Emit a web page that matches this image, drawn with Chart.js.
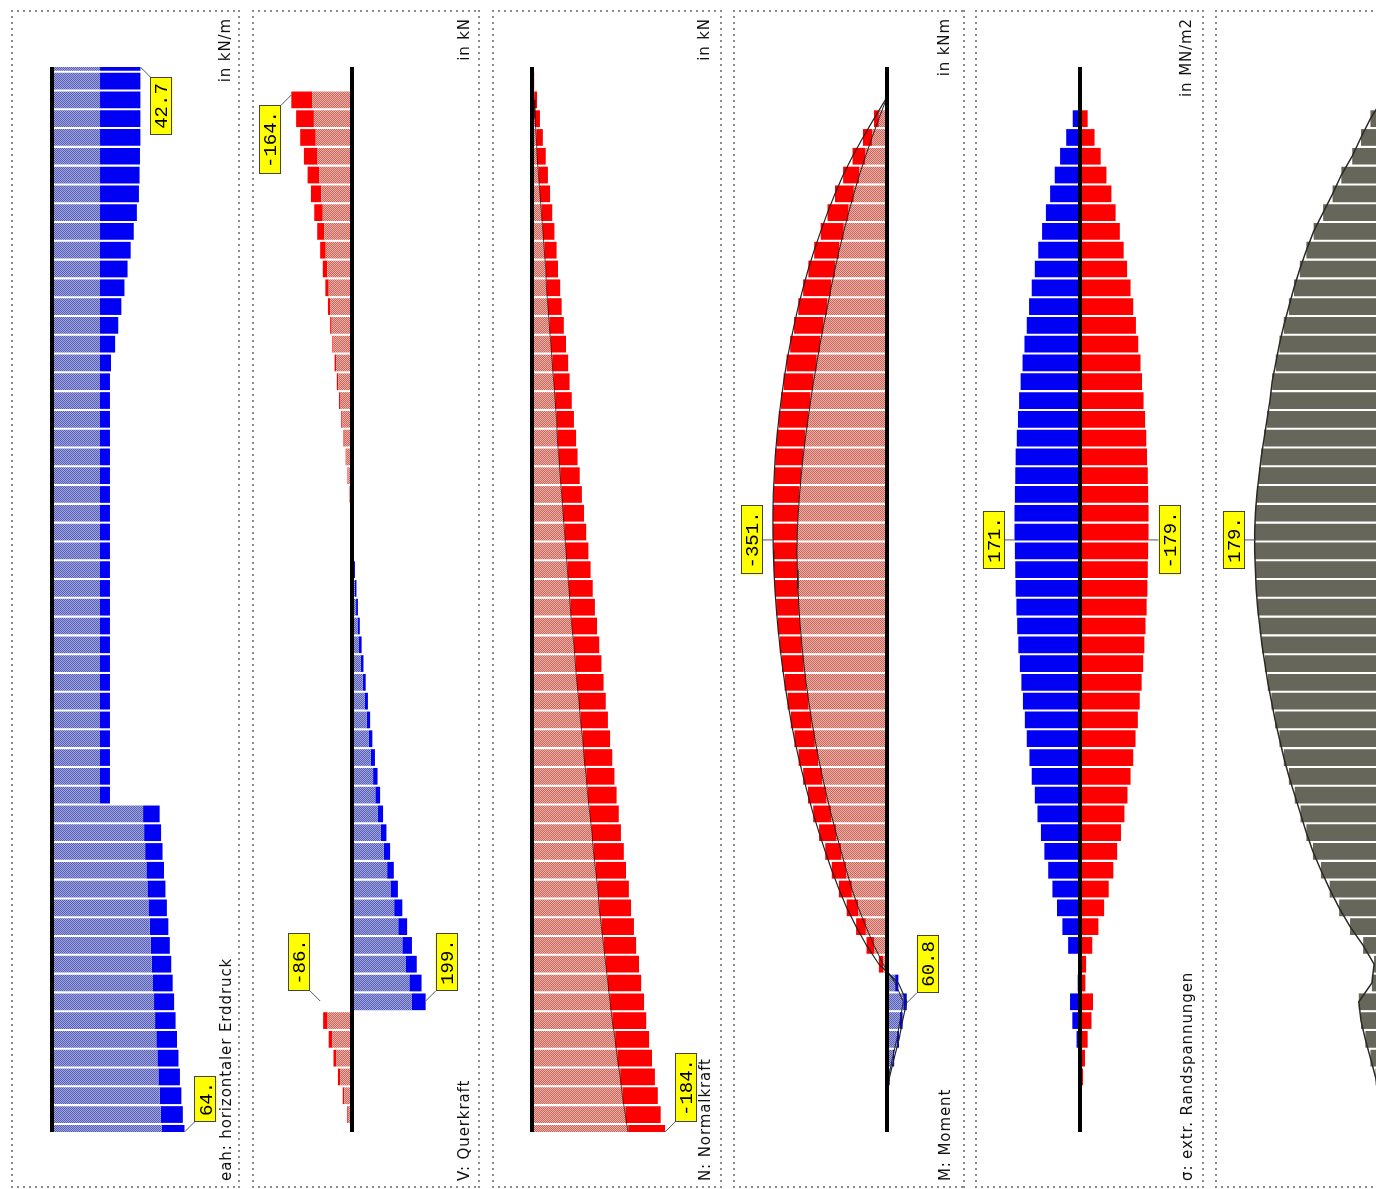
<!DOCTYPE html>
<html lang="de">
<head>
<meta charset="UTF-8">
<title>Spundwand – Schnittgrößen</title>
<script src="https://cdn.jsdelivr.net/npm/chart.js"></script>
<style>
  body {
    margin: 0;
    width: 1376px;
    height: 1189px;
    overflow: hidden;
    position: relative;
    background: #fff;
    font-family: 'DejaVu Sans', sans-serif;
  }
  .panel {
    position: absolute;
    top: 10px;
    height: 1178px;
    background:
      repeating-linear-gradient(90deg, #8c8c8c 0 2px, transparent 2px 6px) 0 0 / 100% 2px no-repeat,
      repeating-linear-gradient(90deg, #8c8c8c 0 2px, transparent 2px 6px) 0 100% / 100% 2px no-repeat,
      repeating-linear-gradient(180deg, #8c8c8c 0 2px, transparent 2px 6px) 0 0 / 2px 100% no-repeat,
      repeating-linear-gradient(180deg, #8c8c8c 0 2px, transparent 2px 6px) 100% 0 / 2px 100% no-repeat;
  }
  canvas { position: absolute; top: 0; }
  .vt {
    position: absolute;
    width: 320px;
    transform-origin: 0 0;
    transform: rotate(-90deg);
    white-space: nowrap;
    font-size: 15px;
    line-height: 16px;
    letter-spacing: 0.9px;
    color: #111;
  }
  .unit { top: 338px; text-align: right; }
  .name { top: 1181px; text-align: left; }
</style>
</head>
<body>
  <div class="panel" style="left:11px;width:229px"></div>
  <div class="panel" style="left:252px;width:228px"></div>
  <div class="panel" style="left:492px;width:230px"></div>
  <div class="panel" style="left:733px;width:232px"></div>
  <div class="panel" style="left:975px;width:229px"></div>
  <div class="panel" style="left:1215px;width:230px"></div>

  <canvas id="c1" width="229" height="1189" style="left:11px"></canvas>
  <canvas id="c2" width="228" height="1189" style="left:252px"></canvas>
  <canvas id="c3" width="230" height="1189" style="left:492px"></canvas>
  <canvas id="c4" width="232" height="1189" style="left:733px"></canvas>
  <canvas id="c5" width="229" height="1189" style="left:975px"></canvas>
  <canvas id="c6" width="230" height="1189" style="left:1215px"></canvas>

  <div class="vt unit" style="left:217px">in kN/m</div>
  <div class="vt name" style="left:218px">eah: horizontaler Erddruck</div>
  <div class="vt unit" style="left:456px">in kN</div>
  <div class="vt name" style="left:456px">V: Querkraft</div>
  <div class="vt unit" style="left:696px">in kN</div>
  <div class="vt name" style="left:697px">N: Normalkraft</div>
  <div class="vt unit" style="left:936px">in kNm</div>
  <div class="vt name" style="left:937px">M: Moment</div>
  <div class="vt unit" style="left:1178px">in MN/m2</div>
  <div class="vt name" style="left:1179px">σ: extr. Randspannungen</div>

<script>
  // stations along the wall (segment centres, top to bottom)
  const stations = [-0.5, 0.5, 1.5, 2.5, 3.5, 4.5, 5.5, 6.5, 7.5, 8.5,
    9.5, 10.5, 11.5, 12.5, 13.5, 14.5, 15.5, 16.5, 17.5, 18.5,
    19.5, 20.5, 21.5, 22.5, 23.5, 24.5, 25.5, 26.5, 27.5, 28.5,
    29.5, 30.5, 31.5, 32.5, 33.5, 34.5, 35.5, 36.5, 37.5, 38.5,
    39.5, 40.5, 41.5, 42.5, 43.5, 44.5, 45.5, 46.5, 47.5, 48.5,
    49.5, 50.5, 51.5, 52.5, 53.5, 54.5, 55.5, 56.5];
  const wallTop = -0.25;
  const wallBottom = 56.43;

  // eah: horizontaler Erddruck (kN/m)
  const eahInner = [23.2, 23.2, 23.2, 23.2, 23.2, 23.2, 23.2, 23.2, 23.2, 23.2,
    23.2, 23.2, 23.2, 23.2, 23.2, 23.2, 23.2, 23.2, 23.2, 23.2,
    23.2, 23.2, 23.2, 23.2, 23.2, 23.2, 23.2, 23.2, 23.2, 23.2,
    23.2, 23.2, 23.2, 23.2, 23.2, 23.2, 23.2, 23.2, 23.2, 23.2,
    44, 44.5, 45, 45.6, 46.1, 46.6, 47.2, 47.7, 48.2, 48.8,
    49.3, 49.8, 50.4, 50.9, 51.4, 52, 52.5, 53];
  const eahOuter = [42.7, 42.7, 42.7, 42.7, 42.7, 42.5, 42.3, 42, 41, 39.5,
    38, 36.5, 35, 33.5, 32, 30.5, 28.5, 28, 28, 28,
    28, 28, 28, 28, 28, 28, 28, 28, 28, 28,
    28, 28, 28, 28, 28, 28, 28, 28, 28, 28,
    52, 52.7, 53.4, 54.1, 54.8, 55.5, 56.2, 56.9, 57.6, 58.3,
    59, 59.7, 60.4, 61.1, 61.8, 62.5, 63.2, 64];

  // V: Querkraft (kN)
  const vInner = [0, 0, -108, -103, -98, -93, -88, -83, -79, -75,
    -71, -67, -63, -59, -55, -50, -43, -37, -31, -26,
    -20, -15, -10, -6, -2, 1, 3, 5, 8, 11,
    15, 19, 24, 29, 35, 40, 45, 51, 57, 63,
    70, 78, 86, 95, 104, 114, 125, 136, 146, 155,
    162, -66, -53, -42, -32, -21, -11, -2];
  const vOuter = [0, 0, -164, -151, -140, -130, -120, -111, -102, -94,
    -86, -79, -72, -65, -59, -53, -47, -41, -35, -29,
    -23, -17, -12, -7, -3, 2, 5, 8, 12, 16,
    21, 26, 31, 37, 43, 49, 55, 62, 69, 76,
    84, 93, 103, 113, 124, 136, 149, 162, 175, 188,
    199, -78, -63, -50, -38, -25, -13, -3];

  // N: Normalkraft (kN)
  const nInner = [0, -1, -3, -4, -6, -7, -9, -11, -13, -15,
    -17, -19, -20, -22, -24, -26, -28, -30, -32, -34,
    -35, -37, -39, -41, -43, -45, -47, -49, -51, -53,
    -55, -58, -60, -62, -65, -67, -70, -72, -75, -77,
    -80, -83, -85, -88, -91, -93, -96, -99, -102, -105,
    -108, -111, -115, -118, -122, -125, -129, -133];
  const nOuter = [0, -3, -7, -11, -15, -19, -22, -25, -28, -31,
    -34, -36, -39, -41, -44, -47, -50, -52, -55, -58,
    -61, -63, -66, -69, -72, -75, -78, -81, -84, -87,
    -90, -93, -96, -99, -102, -105, -108, -111, -114, -117,
    -120, -123, -127, -130, -134, -137, -141, -144, -148, -151,
    -155, -158, -162, -166, -170, -174, -178, -184];

  // M: Moment (kNm)
  const mInner = [0, 0, -3, -25, -46, -66, -85, -102, -118, -133,
    -147, -160, -172, -183, -195, -206, -216, -226, -235, -243,
    -251, -258, -264, -269, -273, -276, -277, -276, -274, -271,
    -267, -262, -256, -249, -241, -232, -222, -211, -199, -186,
    -172, -157, -141, -125, -108, -88, -65, -40, -12, 25,
    50, 40, 30, 17, 5, 0, 0, 0];
  const mOuter = [0, 0, -5, -40, -74, -106, -135, -160, -183, -204,
    -224, -242, -258, -273, -286, -298, -309, -318, -326, -333,
    -339, -344, -347, -350, -351, -351, -350, -348, -345, -341,
    -336, -330, -323, -315, -306, -296, -285, -272, -258, -243,
    -227, -209, -190, -170, -148, -124, -95, -63, -25, 35,
    60.8, 48, 37, 22, 8, 0, 0, 0];

  // σ: extr. Randspannungen (MN/m2)
  const sigmaPos = [0, 0, 2, 19, 36, 52, 66, 78, 89, 99,
    109, 118, 126, 133, 139, 145, 150, 155, 159, 162,
    165, 168, 169, 170, 171, 171, 170, 169, 168, 166,
    164, 161, 157, 153, 149, 144, 139, 132, 126, 118,
    111, 102, 93, 83, 72, 60, 46, 31, 5, 6,
    26, 20, 9, 0, 0, 0, 0, 0];
  const sigmaNeg = [0, 0, -3, -20, -38, -54, -69, -82, -93, -104,
    -114, -123, -132, -139, -146, -152, -158, -162, -166, -170,
    -173, -175, -177, -178, -179, -179, -178, -177, -176, -174,
    -171, -168, -165, -161, -156, -151, -145, -139, -132, -124,
    -116, -107, -97, -87, -75, -63, -48, -32, -16, -14,
    -34, -30, -20, -13, -8, -2, 0, 0];

  // sixth panel (cut off at the right edge)
  const sigmaV = [0, 0, 4, 20, 33, 45, 60, 72, 85, 98,
    108, 117, 125, 132, 139, 145, 150, 155, 158, 162,
    166, 170, 173, 176, 178, 179, 179, 178, 177, 175,
    172, 169, 165, 161, 156, 151, 145, 139, 132, 124,
    116, 108, 99, 88, 76, 63, 48, 30, 15, 18,
    36, 33, 27, 20, 13, 8, 4, 0];

  // extreme values that get a yellow tag: [station, value]
  const eahPeaks = [[-0.25, 42.7], [56.43, 64]];
  const vPeaks = [[1.24, -164], [49.46, -86], [49.46, 199]];
  const nPeaks = [[56.43, -184]];
  const mPeaks = [[24.92, -351], [49.56, 60.8]];
  const sigmaPeaks = [[24.92, 171], [24.92, -179]];
  const sigmaVPeaks = [[24.92, 179]];

  // dithered fill like the old screen hatch
  function checker(a, b) {
    const tile = document.createElement('canvas');
    tile.width = 2;
    tile.height = 2;
    const g = tile.getContext('2d');
    g.fillStyle = a;
    g.fillRect(0, 0, 2, 2);
    g.fillStyle = b;
    g.fillRect(0, 0, 1, 1);
    g.fillRect(1, 1, 1, 1);
    return g.createPattern(tile, 'repeat');
  }

  const LIGHT_BLUE = checker('#565eb9', '#a2a7db');
  const DARK_BLUE = '#0000f5';
  const LIGHT_RED = checker('#c9665c', '#ebb0a8');
  const DARK_RED = '#ff0000';
  const GRAY = '#66665a';

  const light = v => v >= 0 ? LIGHT_BLUE : LIGHT_RED;
  const dark = v => v >= 0 ? DARK_BLUE : DARK_RED;

  function bars(from, to, colorFn) {
    return {
      type: 'bar',
      data: stations.map((s, i) => ({ y: s, x: [from ? from[i] : 0, to[i]] })),
      backgroundColor: to.map(colorFn),
      grouped: false,
      barPercentage: 0.89,
      categoryPercentage: 1,
      borderWidth: 0,
      clip: 0
    };
  }

  function outline(vals, color, width) {
    return {
      type: 'line',
      data: stations.map((s, i) => ({ y: s, x: vals[i] })),
      borderColor: color,
      borderWidth: width,
      pointRadius: 0,
      fill: false,
      clip: 0
    };
  }

  function baseline() {
    return {
      type: 'line',
      data: [{ x: 0, y: wallTop }, { x: 0, y: wallBottom }],
      borderColor: '#000',
      borderWidth: 4,
      pointRadius: 0,
      clip: 0
    };
  }

  function tagText(v) {
    return Number.isInteger(v) ? v + '.' : String(v);
  }

  function drawTag(ctx, px, py, v, side, place) {
    const text = tagText(v);
    ctx.save();
    ctx.font = '19px "Liberation Mono", monospace';
    const tw = ctx.measureText(text).width;
    const bw = 22, bh = Math.round(tw + 12);
    const bx = side > 0 ? px + 10 : px - 10 - bw;
    const by = place === 'below' ? py + 10 : place === 'above' ? py - 10 - bh : py - bh / 2;
    const lx = side > 0 ? bx : bx + bw;
    const ly = place === 'below' ? by : place === 'above' ? by + bh : py;
    ctx.strokeStyle = '#555';
    ctx.lineWidth = 1;
    ctx.beginPath();
    ctx.moveTo(px, py);
    ctx.lineTo(lx, ly);
    ctx.stroke();
    ctx.fillStyle = '#ffff00';
    ctx.fillRect(bx, by, bw, bh);
    ctx.strokeStyle = '#444';
    ctx.strokeRect(Math.round(bx) + 0.5, Math.round(by) + 0.5, bw - 1, bh - 1);
    ctx.translate(bx + bw / 2, by + bh / 2);
    ctx.rotate(-Math.PI / 2);
    ctx.fillStyle = '#000';
    ctx.textAlign = 'center';
    ctx.textBaseline = 'middle';
    ctx.fillText(text, 0, 1);
    ctx.restore();
  }

  function peakPlugin(peaks, place) {
    return {
      id: 'peakTags',
      afterDraw(chart) {
        const { ctx, scales: { x, y } } = chart;
        const zero = x.getPixelForValue(0);
        peaks.forEach(([st, v], k) => {
          const px = x.getPixelForValue(v);
          drawTag(ctx, px, y.getPixelForValue(st), v, px > zero ? 1 : -1, place[k]);
        });
      }
    };
  }

  const panels = [
    { id: 'c1', left: 11, width: 229, base: 52, scale: 2.07, dir: 1,
      datasets: [baseline(), bars(null, eahInner, () => LIGHT_BLUE), bars(eahInner, eahOuter, () => DARK_BLUE)],
      peaks: eahPeaks, place: ['below', 'above'] },
    { id: 'c2', left: 252, width: 228, base: 352, scale: 0.37, dir: 1,
      datasets: [baseline(), bars(null, vInner, light), bars(vInner, vOuter, dark)],
      peaks: vPeaks, place: ['below', 'above', 'above'] },
    { id: 'c3', left: 492, width: 230, base: 532, scale: 0.723, dir: -1,
      datasets: [baseline(), outline(nInner, 'rgba(60,0,0,0.7)', 1),
        bars(null, nInner, light), bars(nInner, nOuter, dark)],
      peaks: nPeaks, place: ['above'] },
    { id: 'c4', left: 733, width: 232, base: 887, scale: 0.325, dir: 1,
      datasets: [baseline(), outline(mInner, '#222', 1), outline(mOuter, '#222', 1.2),
        bars(null, mInner, light), bars(mInner, mOuter, dark)],
      peaks: mPeaks, place: ['mid', 'above'] },
    { id: 'c5', left: 975, width: 229, base: 1080, scale: 0.383, dir: -1,
      datasets: [baseline(), bars(null, sigmaPos, () => DARK_BLUE), bars(null, sigmaNeg, () => DARK_RED)],
      peaks: sigmaPeaks, place: ['mid', 'mid'] },
    { id: 'c6', left: 1215, width: 230, base: 1385, scale: 0.728, dir: -1,
      datasets: [baseline(), outline(sigmaV, '#2a2a22', 1.5), bars(null, sigmaV, () => GRAY)],
      peaks: sigmaVPeaks, place: ['mid'] }
  ];

  panels.forEach(p => {
    const right = p.left + p.width;
    const min = p.dir > 0 ? (p.left - p.base) / p.scale : (p.base - right) / p.scale;
    const max = p.dir > 0 ? (right - p.base) / p.scale : (p.base - p.left) / p.scale;
    new Chart(document.getElementById(p.id), {
      type: 'bar',
      data: { datasets: p.datasets },
      options: {
        indexAxis: 'y',
        responsive: false,
        animation: false,
        devicePixelRatio: 1,
        layout: { padding: { top: 67, bottom: 57, left: 0, right: 0 } },
        scales: {
          x: { type: 'linear', display: false, offset: false, min, max, reverse: p.dir < 0 },
          y: { type: 'linear', display: false, offset: false, min: wallTop, max: wallBottom, reverse: true }
        },
        plugins: { legend: { display: false }, tooltip: { enabled: false } }
      },
      plugins: [peakPlugin(p.peaks, p.place)]
    });
  });
</script>
</body>
</html>
